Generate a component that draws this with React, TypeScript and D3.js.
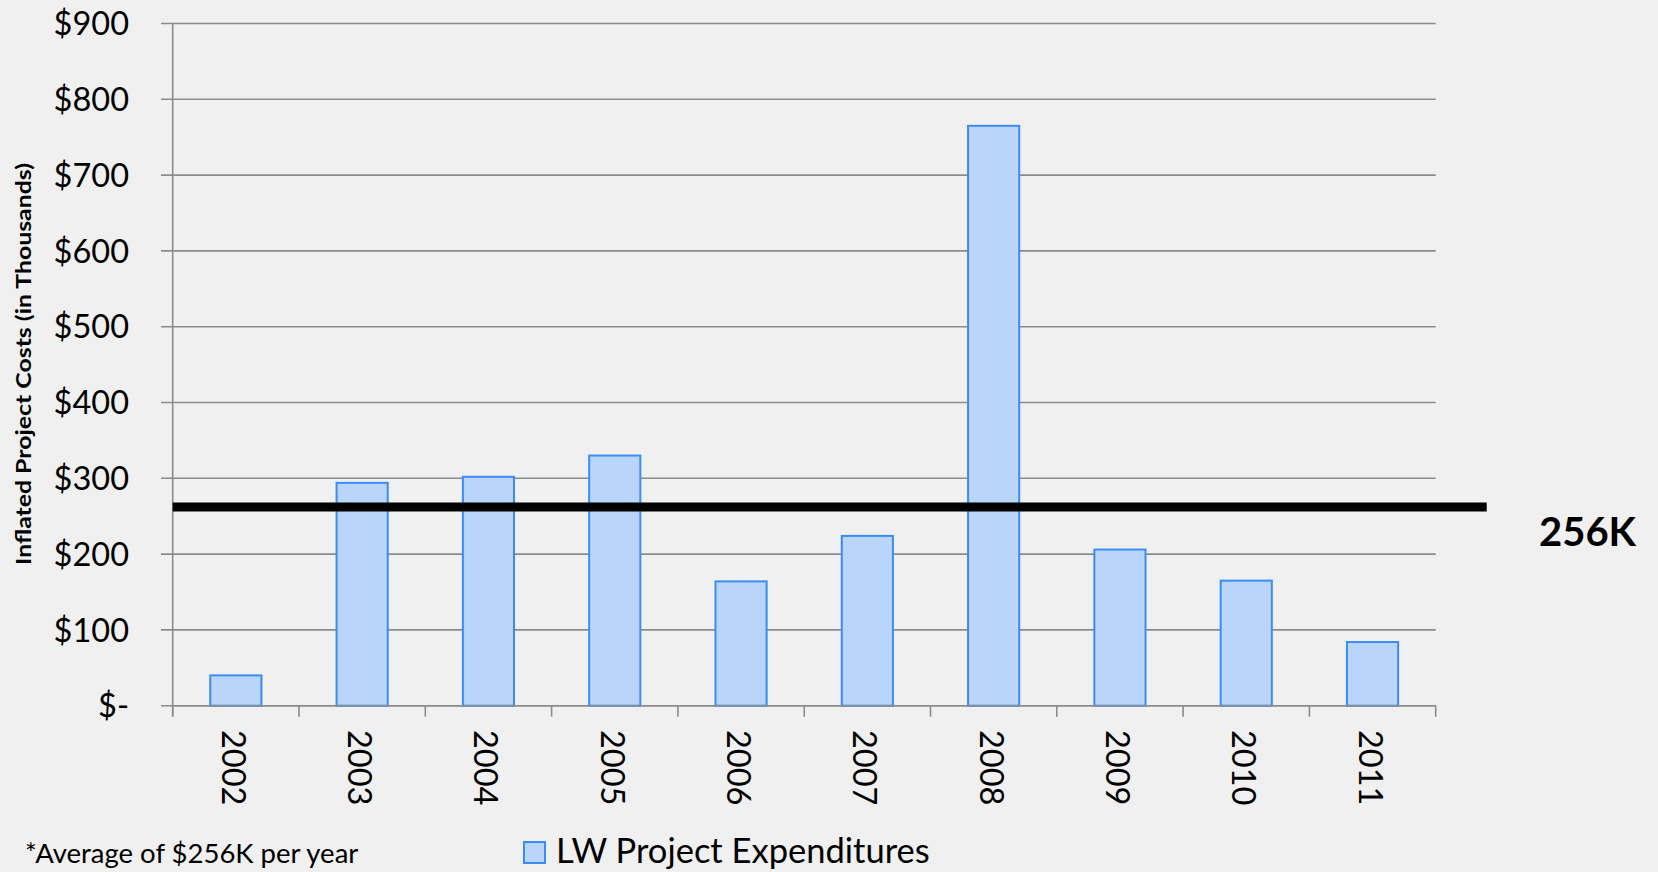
import React from 'react';
import * as d3 from 'd3';

// chart values
const years = ['2002', '2003', '2004', '2005', '2006', '2007', '2008', '2009', '2010', '2011'];
const expenditures = [40, 294, 302, 330, 164, 224, 765, 206, 165, 84];
const yTicks = [0, 100, 200, 300, 400, 500, 600, 700, 800, 900];
const averageLineValue = 262;
const averageLabel = '256K';
const seriesName = 'LW Project Expenditures';
const footnote = '*Average of $256K per year';
const yTitle = 'Inflated Project Costs (in Thousands)';

const W = 1658;
const H = 872;
const FONT = 'Lato, "Open Sans", sans-serif';

const App: React.FC = () => {
  const margin = { left: 172.7, right: 1435.7, top: 23.5, bottom: 705.7 };

  const x = d3.scaleBand<string>()
    .domain(years)
    .range([margin.left, margin.right])
    .paddingInner(0.595)
    .paddingOuter(0.2975);

  const y = d3.scaleLinear()
    .domain([0, 900])
    .range([margin.bottom, margin.top]);

  const step = x.step();
  const boundaries = d3.range(years.length + 1).map(i => margin.left + i * step);

  const fmt = (v: number) => (v === 0 ? '$-' : `$${v}`);

  return (
    <div style={{ position: 'fixed', left: 0, top: 0, width: W, height: H, background: '#f0f0f0' }}>
      <svg width={W} height={H} style={{ display: 'block' }}>
        <rect width={W} height={H} fill="#f0f0f0" />

        {/* gridlines + y labels */}
        {yTicks.map(t => (
          <g key={t}>
            <line x1={161} x2={margin.right} y1={y(t)} y2={y(t)} stroke="#8c8c8c" strokeWidth={1.6} />
            <text x={129} y={y(t)} dy="0.36em" textAnchor="end" fontFamily={FONT} fontSize={32.5} fill="#000">
              {fmt(t)}
            </text>
          </g>
        ))}

        {/* y axis */}
        <line x1={margin.left} x2={margin.left} y1={margin.top} y2={margin.bottom + 11} stroke="#8c8c8c" strokeWidth={1.6} />

        {/* x tick marks */}
        {boundaries.map((bx, i) => (
          <line key={i} x1={bx} x2={bx} y1={margin.bottom} y2={margin.bottom + 11} stroke="#8c8c8c" strokeWidth={1.6} />
        ))}

        {/* bars */}
        {years.map((yr, i) => (
          <rect
            key={yr}
            x={x(yr)!}
            y={y(expenditures[i])}
            width={x.bandwidth()}
            height={y(0) - y(expenditures[i])}
            fill="#b9d5fa"
            stroke="#3b8cf4"
            strokeWidth={2}
          />
        ))}

        {/* x axis line */}
        <line x1={margin.left} x2={margin.right} y1={margin.bottom} y2={margin.bottom} stroke="#8c8c8c" strokeWidth={1.6} />

        {/* year labels */}
        {years.map(yr => {
          const cx = x(yr)! + x.bandwidth() / 2;
          return (
            <text
              key={yr}
              transform={`translate(${cx - 1.5},730) rotate(90)`}
              dominantBaseline="central"
              fontFamily={FONT}
              fontSize={32.5}
              fill="#000"
            >
              {yr}
            </text>
          );
        })}

        {/* average line */}
        <line x1={margin.left} x2={1486.7} y1={y(averageLineValue)} y2={y(averageLineValue)} stroke="#000" strokeWidth={9} />
        <text x={1539} y={546} fontFamily={FONT} fontWeight={700} fontSize={40} fill="#000">
          {averageLabel}
        </text>

        {/* y title */}
        <text
          transform={`translate(31,364) rotate(-90)`}
          textAnchor="middle"
          fontFamily={FONT}
          fontWeight={700}
          fontSize={21}
          textLength={402}
          lengthAdjust="spacingAndGlyphs"
          fill="#000"
        >
          {yTitle}
        </text>

        {/* footnote */}
        <text x={25} y={863} fontFamily={FONT} fontSize={27.5} fill="#000">{footnote}</text>

        {/* legend */}
        <rect x={524} y={842} width={21} height={21} fill="#b9d5fa" stroke="#3b8cf4" strokeWidth={2} />
        <text x={556} y={863} fontFamily={FONT} fontSize={34.5} fill="#000">{seriesName}</text>
      </svg>
    </div>
  );
};

export default App;
